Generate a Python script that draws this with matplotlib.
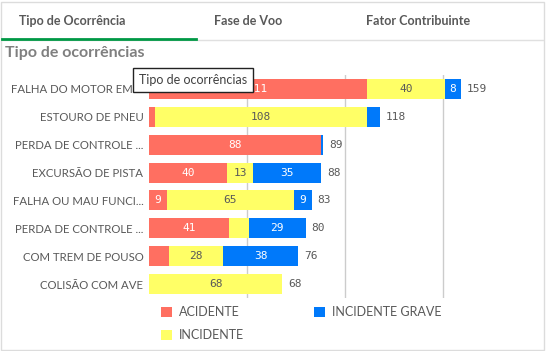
import matplotlib.pyplot as plt
import numpy as np
from matplotlib.lines import Line2D
from matplotlib.patches import Rectangle

# data
categories = ["FALHA DO MOTOR EM ...", "ESTOURO DE PNEU", "PERDA DE CONTROLE ...",
              "EXCURSÃO DE PISTA", "FALHA OU MAU FUNCI...", "PERDA DE CONTROLE ...",
              "COM TREM DE POUSO", "COLISÃO COM AVE"]
acidente = [111, 3, 88, 40, 9, 41, 10, 0]
incidente = [40, 108, 0, 13, 65, 10, 28, 68]
incidente_grave = [8, 7, 1, 35, 9, 29, 38, 0]
series_names = ["ACIDENTE", "INCIDENTE", "INCIDENTE GRAVE"]
colors = ["#ff6f61", "#ffff66", "#0079fa"]
text_colors = ["white", "#595959", "white"]

W, H = 546, 351
fig = plt.figure(figsize=(W / 100, H / 100), dpi=100)

# outer frame
fig.add_artist(Rectangle((1 / W, 1 / H), (W - 3) / W, (H - 3) / H, transform=fig.transFigure,
                         fill=False, edgecolor="#dcdcdc", lw=1))

# tabs
fig.text(19 / W, 1 - 21 / H, "Tipo de Ocorrência", fontsize=9, fontweight="bold",
         color="#595959", va="center", family="Lato")
fig.text(214 / W, 1 - 21 / H, "Fase de Voo", fontsize=9, fontweight="bold",
         color="#595959", va="center", family="Lato")
fig.text(366 / W, 1 - 21 / H, "Fator Contribuinte", fontsize=9, fontweight="bold",
         color="#595959", va="center", family="Lato")
fig.add_artist(Line2D([2 / W, 543 / W], [1 - 40 / H, 1 - 40 / H], color="#e0e0e0", lw=1))
fig.add_artist(Line2D([2 / W, 196 / W], [1 - 39 / H, 1 - 39 / H], color="#009845", lw=2))

# title
fig.text(5 / W, 1 - 53 / H, "Tipo de ocorrências", fontsize=11.5, fontweight="bold",
         color="#7f7f7f", va="center", family="Lato")

# bar chart
ax = fig.add_axes([149 / W, 1 - 298 / H, (538 - 149) / W, (298 - 75) / H])
y = np.arange(len(categories))
left = np.zeros(len(categories))
handles = []
for vals, name, c, tc in zip([acidente, incidente, incidente_grave], series_names, colors, text_colors):
    vals = np.array(vals)
    bars = ax.barh(y, vals, left=left, height=0.72, color=c, label=name, zorder=3)
    handles.append(bars)
    for i, v in enumerate(vals):
        lab = str(v)
        if v >= 4 + 4 * len(lab):
            ax.text(left[i] + v / 2, y[i], lab, ha="center", va="center", fontsize=8,
                    color=tc, family="DejaVu Sans Mono", zorder=4)
    left = left + vals

for i, tot in enumerate(left):
    ax.text(tot + 3, y[i], str(int(tot)), ha="left", va="center", fontsize=8,
            color="#595959", family="DejaVu Sans Mono", zorder=4)

ax.set_xlim(0, 198.5)
ax.set_ylim(len(categories) - 0.5, -0.5)
ax.set_xticks([50, 100, 150])
ax.xaxis.grid(True, color="#cccccc", lw=1, zorder=0)
ax.tick_params(axis="x", length=0, labelbottom=False)
ax.tick_params(axis="y", length=0, pad=4)
ax.set_yticks(y)
ax.set_yticklabels(categories, fontsize=8.2, color="#595959", family="Lato")
for s in ax.spines.values():
    s.set_visible(False)

# legend
fig.legend(handles=handles, labels=series_names, loc="upper left",
           bbox_to_anchor=(161 / W, 1 - 306 / H), ncol=2, frameon=False,
           borderpad=0, borderaxespad=0,
           prop={"family": "Lato", "size": 9}, labelcolor="#595959",
           handlelength=0.85, handleheight=0.85, handletextpad=0.6,
           columnspacing=5.6, labelspacing=0.9)

# hover tooltip shown in the screenshot
fig.text(139 / W, 1 - 80 / H, "Tipo de ocorrências", fontsize=9, color="#404040",
         va="center", family="Lato",
         bbox=dict(boxstyle="square,pad=0.45", facecolor="white", edgecolor="#222222", lw=1),
         zorder=10)

fig.savefig("out.png", dpi=100)
